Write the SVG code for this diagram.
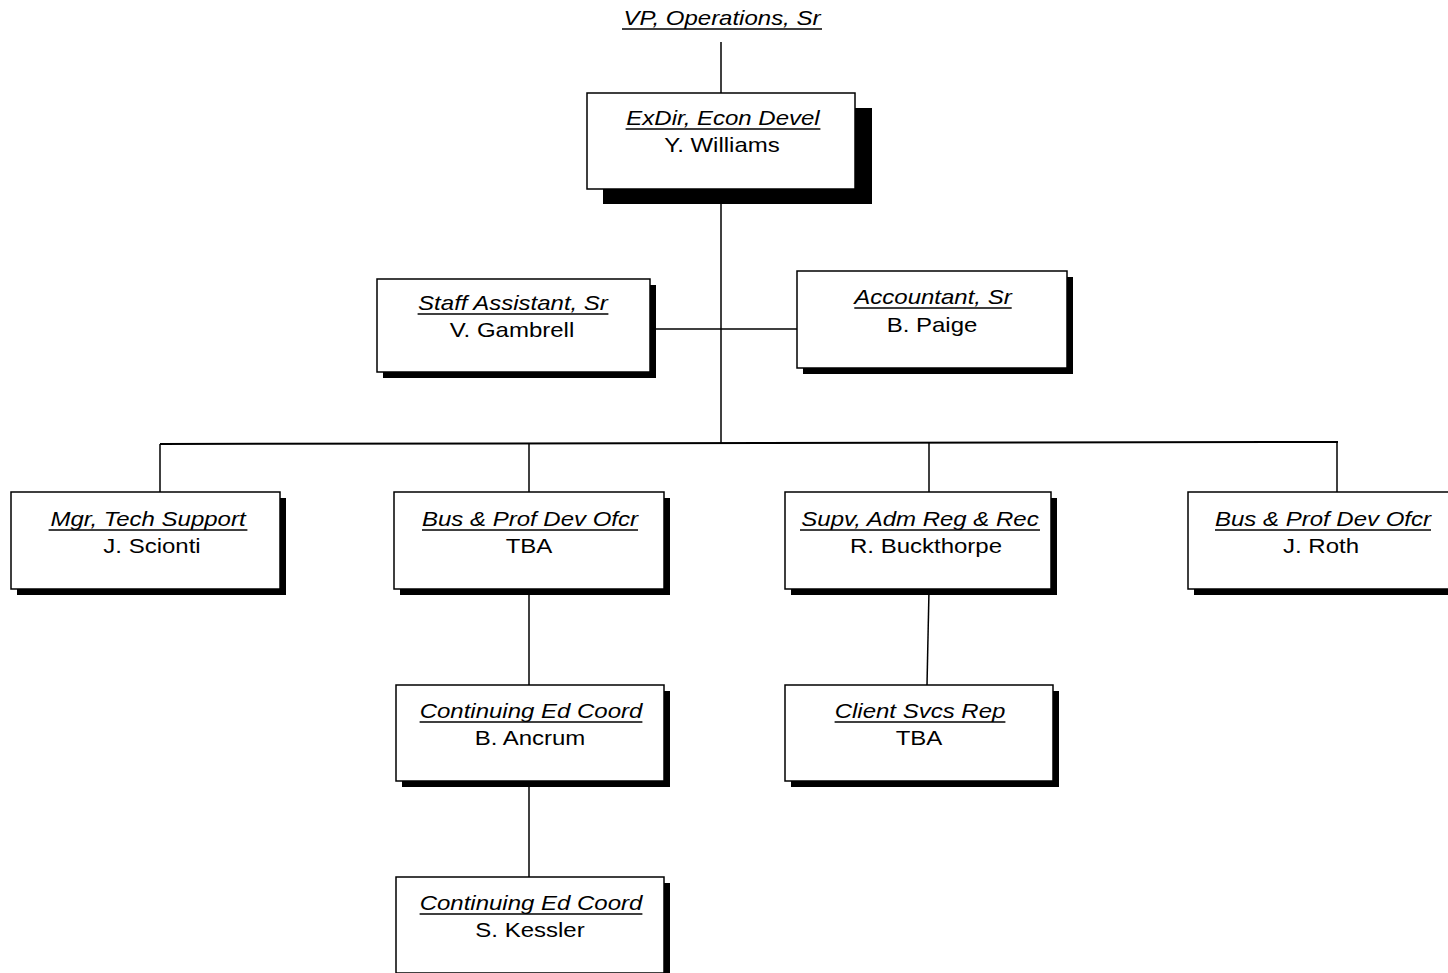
<svg xmlns="http://www.w3.org/2000/svg" width="1448" height="973" viewBox="0 0 1448 973">
<style>
  .bg { fill: #ffffff; }
  .box { fill: #ffffff; stroke: #000000; stroke-width: 1.5; }
  .shadow { fill: #000000; }
  .conn { stroke: #000000; stroke-width: 1.5; fill: none; }
  .bus { stroke: #000000; stroke-width: 2; fill: none; }
  .ul { stroke: #000000; stroke-width: 1.5; }
  text { font-family: "Liberation Sans", Arial, sans-serif; font-size: 20px; fill: #000000; text-anchor: middle; }
  .title { font-style: italic; }
</style>
<rect class="bg" x="0" y="0" width="1448" height="973"/>

<g id="connectors">
  <line class="conn" x1="721" y1="42" x2="721" y2="93"/>
  <line class="conn" x1="721" y1="189" x2="721" y2="443"/>
  <line class="conn" x1="650" y1="329" x2="797" y2="329"/>
  <polyline class="bus" points="160,444 1338,442"/>
  <line class="conn" x1="160" y1="444" x2="160" y2="492"/>
  <line class="conn" x1="529" y1="443" x2="529" y2="492"/>
  <line class="conn" x1="929" y1="443" x2="929" y2="492"/>
  <line class="conn" x1="1337" y1="442" x2="1337" y2="492"/>
  <line class="conn" x1="529" y1="590" x2="529" y2="685"/>
  <line class="conn" x1="529" y1="781" x2="529" y2="877"/>
  <line class="conn" x1="929" y1="590" x2="927" y2="685"/>
</g>

<g id="vp">
  <text class="title" transform="translate(722,25) scale(1.2,1)">VP, Operations, Sr</text>
  <line class="ul" x1="622" y1="29" x2="822" y2="29"/>
</g>

<g id="exdir">
  <rect class="shadow" x="603" y="108" width="269" height="96"/>
  <rect class="box" x="587" y="93" width="268" height="96"/>
  <text class="title" transform="translate(723,125) scale(1.2,1)">ExDir, Econ Devel</text>
  <line class="ul" x1="625.6" y1="129" x2="820.4" y2="129"/>
  <text transform="translate(722,152) scale(1.2,1)">Y. Williams</text>
</g>

<g id="staff">
  <rect class="shadow" x="383" y="285" width="273" height="93"/>
  <rect class="box" x="377" y="279" width="273" height="93"/>
  <text class="title" transform="translate(513,310) scale(1.2,1)">Staff Assistant, Sr</text>
  <line class="ul" x1="417.6" y1="314" x2="608.4" y2="314"/>
  <text transform="translate(512,337) scale(1.2,1)">V. Gambrell</text>
</g>

<g id="accountant">
  <rect class="shadow" x="803" y="277" width="270" height="97"/>
  <rect class="box" x="797" y="271" width="270" height="97"/>
  <text class="title" transform="translate(933,304) scale(1.2,1)">Accountant, Sr</text>
  <line class="ul" x1="854.3" y1="308" x2="1011.7" y2="308"/>
  <text transform="translate(932,332) scale(1.2,1)">B. Paige</text>
</g>

<g id="mgr-tech">
  <rect class="shadow" x="17" y="498" width="269" height="97"/>
  <rect class="box" x="11" y="492" width="269" height="97"/>
  <text class="title" transform="translate(148,526) scale(1.2,1)">Mgr, Tech Support</text>
  <line class="ul" x1="48.6" y1="530" x2="247.4" y2="530"/>
  <text transform="translate(152,553) scale(1.2,1)">J. Scionti</text>
</g>

<g id="bus-prof-tba">
  <rect class="shadow" x="400" y="498" width="270" height="97"/>
  <rect class="box" x="394" y="492" width="270" height="97"/>
  <text class="title" transform="translate(530,526) scale(1.2,1)">Bus &amp; Prof Dev Ofcr</text>
  <line class="ul" x1="422" y1="530" x2="638" y2="530"/>
  <text transform="translate(529,553) scale(1.2,1)">TBA</text>
</g>

<g id="supv">
  <rect class="shadow" x="791" y="498" width="266" height="97"/>
  <rect class="box" x="785" y="492" width="266" height="97"/>
  <text class="title" transform="translate(920,526) scale(1.2,1)">Supv, Adm Reg &amp; Rec</text>
  <line class="ul" x1="800" y1="530" x2="1040" y2="530"/>
  <text transform="translate(926,553) scale(1.2,1)">R. Buckthorpe</text>
</g>

<g id="bus-prof-roth">
  <rect class="shadow" x="1194" y="498" width="270" height="97"/>
  <rect class="box" x="1188" y="492" width="270" height="97"/>
  <text class="title" transform="translate(1323,526) scale(1.2,1)">Bus &amp; Prof Dev Ofcr</text>
  <line class="ul" x1="1215" y1="530" x2="1431" y2="530"/>
  <text transform="translate(1321,553) scale(1.2,1)">J. Roth</text>
</g>

<g id="cont-ed-ancrum">
  <rect class="shadow" x="402" y="691" width="268" height="96"/>
  <rect class="box" x="396" y="685" width="268" height="96"/>
  <text class="title" transform="translate(531,718) scale(1.2,1)">Continuing Ed Coord</text>
  <line class="ul" x1="419.6" y1="722" x2="642.4" y2="722"/>
  <text transform="translate(530,745) scale(1.2,1)">B. Ancrum</text>
</g>

<g id="client-svcs">
  <rect class="shadow" x="791" y="691" width="268" height="96"/>
  <rect class="box" x="785" y="685" width="268" height="96"/>
  <text class="title" transform="translate(920,718) scale(1.2,1)">Client Svcs Rep</text>
  <line class="ul" x1="834.6" y1="722" x2="1005.4" y2="722"/>
  <text transform="translate(919,745) scale(1.2,1)">TBA</text>
</g>

<g id="cont-ed-kessler">
  <rect class="shadow" x="402" y="883" width="268" height="96"/>
  <rect class="box" x="396" y="877" width="268" height="96"/>
  <text class="title" transform="translate(531,910) scale(1.2,1)">Continuing Ed Coord</text>
  <line class="ul" x1="419.6" y1="914" x2="642.4" y2="914"/>
  <text transform="translate(530,937) scale(1.2,1)">S. Kessler</text>
</g>
</svg>
